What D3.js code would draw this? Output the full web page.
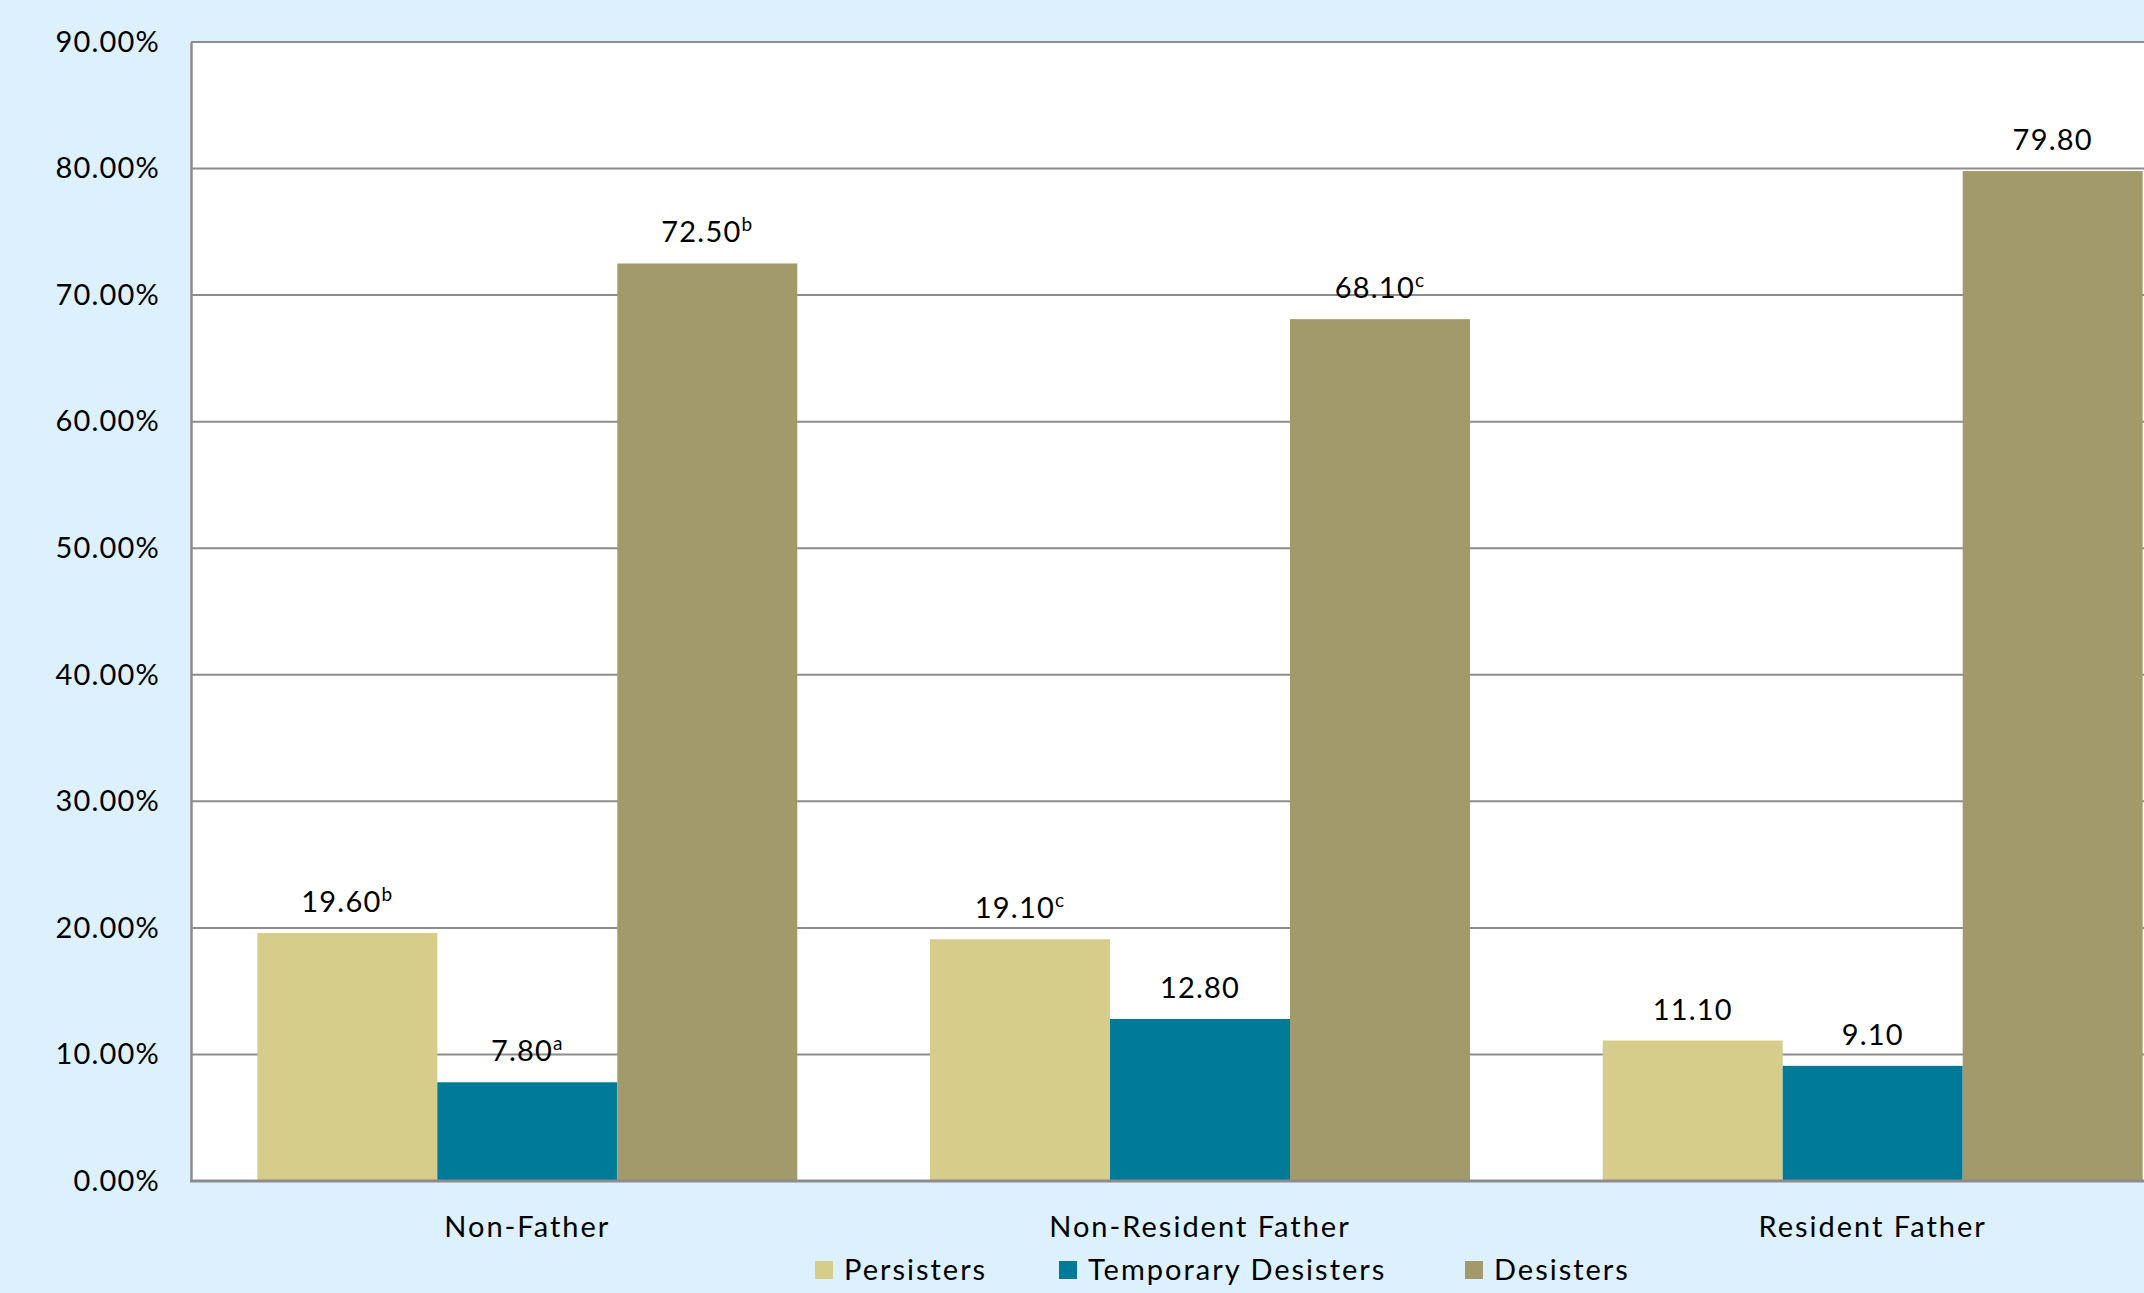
<!DOCTYPE html>
<html>
<head>
<meta charset="utf-8">
<script src="https://cdn.jsdelivr.net/npm/d3@7"></script>
<style>
  html, body { margin: 0; padding: 0; background: #ddf0fd; }
  svg { display: block; }
  text { font-family: Lato, "Open Sans", sans-serif; fill: #000; }
</style>
</head>
<body>
<div id="vis-container"></div>
<script>
// chart data
var categories = ["Non-Father", "Non-Resident Father", "Resident Father"];
var seriesNames = ["Persisters", "Temporary Desisters", "Desisters"];
var persisters = [19.6, 19.1, 11.1];
var temporaryDesisters = [7.8, 12.8, 9.1];
var desisters = [72.5, 68.1, 79.8];
// superscript notes on the data labels
var persistersNotes = ["b", "c", ""];
var temporaryNotes = ["a", "", ""];
var desistersNotes = ["b", "c", ""];
var yTicks = [0, 10, 20, 30, 40, 50, 60, 70, 80, 90];

var colors = ["#d6cd8b", "#007a99", "#a29a6a"];

var width = 2144, height = 1293;
var plotLeft = 191, plotRight = 2209, plotTop = 42, plotBottom = 1181;

function buildRows() {
      var rows = [];
      var values = [persisters, temporaryDesisters, desisters];
      var notes = [persistersNotes, temporaryNotes, desistersNotes];
      categories.forEach(function(cat, i) {
            seriesNames.forEach(function(s, j) {
                  rows.push({ "category": cat, "series": s, "value": values[j][i], "note": notes[j][i] });
            });
      });
      return rows;
}

function drawChart() {
      var rows = buildRows();

      var svg = d3.select("#vis-container").append("svg")
            .attr("width", width)
            .attr("height", height);

      svg.append("rect")
            .attr("width", width).attr("height", height)
            .attr("fill", "#ddf0fd");

      // plot area
      svg.append("rect")
            .attr("x", plotLeft).attr("y", plotTop)
            .attr("width", plotRight - plotLeft).attr("height", plotBottom - plotTop)
            .attr("fill", "#fff");

      var x0 = d3.scaleBand()
            .domain(categories)
            .range([plotLeft, plotRight])
            .paddingInner(0.1973)
            .paddingOuter(0.0986);

      var x1 = d3.scaleBand()
            .domain(seriesNames)
            .range([0, x0.bandwidth()]);

      var y = d3.scaleLinear()
            .domain([0, 90])
            .range([plotBottom, plotTop]);

      // gridlines
      svg.append("g")
            .selectAll("line")
            .data(yTicks)
            .enter()
            .append("line")
            .attr("x1", plotLeft).attr("x2", plotRight)
            .attr("y1", d => y(d)).attr("y2", d => y(d))
            .attr("stroke", "#8c8c8c")
            .attr("stroke-width", 2);

      // Y axis
      var yAxis = svg.append("g")
            .attr("transform", "translate(" + plotLeft + ",0)")
            .call(d3.axisLeft(y)
            .tickValues(yTicks)
            .tickSize(0)
            .tickPadding(31)
            .tickFormat(d => d3.format(".2f")(d) + "%"));
      yAxis.select(".domain").attr("stroke", "#8c8c8c").attr("stroke-width", 2.5);
      yAxis.selectAll("text")
            .style("font-size", "29px")
            .style("letter-spacing", "1.2px")
            .attr("fill", "#000");

      // bars
      var groups = svg.append("g")
            .selectAll("g")
            .data(rows)
            .enter();

      groups.append("rect")
            .attr("x", d => x0(d.category) + x1(d.series))
            .attr("y", d => y(d.value))
            .attr("width", x1.bandwidth())
            .attr("height", d => y(0) - y(d.value))
            .attr("fill", d => colors[seriesNames.indexOf(d.series)]);

      // data labels
      var labels = groups.append("text")
            .attr("x", d => x0(d.category) + x1(d.series) + x1.bandwidth() / 2)
            .attr("y", d => y(d.value) - 21)
            .attr("text-anchor", "middle")
            .style("font-size", "29px")
            .style("letter-spacing", "1.2px");
      labels.append("tspan").text(d => d3.format(".2f")(d.value));
      labels.append("tspan")
            .attr("dy", -11)
            .style("font-size", "19px")
            .text(d => d.note);

      // x axis line
      svg.append("line")
            .attr("x1", plotLeft - 1).attr("x2", plotRight)
            .attr("y1", plotBottom).attr("y2", plotBottom)
            .attr("stroke", "#8c8c8c")
            .attr("stroke-width", 3);

      // category labels
      svg.append("g")
            .selectAll("text")
            .data(categories)
            .enter()
            .append("text")
            .attr("x", d => x0(d) + x0.bandwidth() / 2)
            .attr("y", 1237)
            .attr("text-anchor", "middle")
            .style("font-size", "29px")
            .style("letter-spacing", "2px")
            .text(d => d);

      // legend
      var legendX = [815, 1059, 1465];
      var legend = svg.append("g")
            .selectAll("g")
            .data(seriesNames)
            .enter()
            .append("g")
            .attr("transform", (d, i) => "translate(" + legendX[i] + ",1261)");
      legend.append("rect")
            .attr("width", 18).attr("height", 18)
            .attr("fill", (d, i) => colors[i]);
      legend.append("text")
            .attr("x", 29).attr("y", 19)
            .style("font-size", "29px")
            .style("letter-spacing", "2px")
            .text(d => d);
}

drawChart();
</script>
</body>
</html>
